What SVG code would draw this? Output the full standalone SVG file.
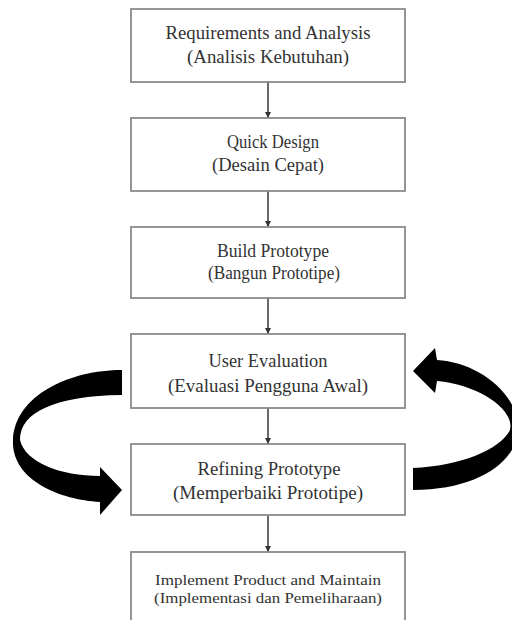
<svg xmlns="http://www.w3.org/2000/svg" width="512" height="620" viewBox="0 0 512 620">
<defs>
<style>
.box{fill:#fff;stroke:#8a8a8a;stroke-width:1.8}
.t{font-family:"Liberation Serif","Times New Roman",serif;font-size:18.5px;fill:#333;text-anchor:middle}
.s{font-size:15px}
.c{stroke:#444;stroke-width:1.6;fill:none}
.big{fill:#000}
</style>
<marker id="ah" viewBox="0 0 10 10" refX="10" refY="5" markerWidth="4" markerHeight="4" orient="auto" markerUnits="strokeWidth">
<path d="M0,0 L10,5 L0,10 Z" fill="#333"/>
</marker>
</defs>
<rect width="512" height="620" fill="#fff"/>
<g id="connectors">
<line class="c" x1="268" y1="82" x2="268" y2="118" marker-end="url(#ah)"/>
<line class="c" x1="268" y1="191" x2="268" y2="227" marker-end="url(#ah)"/>
<line class="c" x1="268" y1="298" x2="268" y2="334" marker-end="url(#ah)"/>
<line class="c" x1="268" y1="408" x2="268" y2="444" marker-end="url(#ah)"/>
<line class="c" x1="268" y1="515" x2="268" y2="552" marker-end="url(#ah)"/>
<path id="loop-left" class="big" d="M122 370 C70 370 15 395 13 440 C11 480 60 500 100 502 L100 515 L122 490 L100 467 L100 476 C60 476 25 462 20 440 C20 412 55 396 122 395 Z"/>
<path id="loop-right" class="big" d="M413 371 L435 348 L437 360 C475 362 515 390 518 425 C520 460 480 490 413 490 L413 468 C460 466 500 450 510 430 C515 410 480 385 437 381 L435 393 Z"/>
</g>
<g id="n1">
<rect class="box" x="131" y="9" width="274" height="73"/>
<text class="t" x="268" y="39" textLength="205" lengthAdjust="spacingAndGlyphs">Requirements and Analysis</text>
<text class="t" x="268" y="63" textLength="162" lengthAdjust="spacingAndGlyphs">(Analisis Kebutuhan)</text>
</g>
<g id="n2">
<rect class="box" x="131" y="118" width="274" height="73"/>
<text class="t" x="273" y="148" textLength="92" lengthAdjust="spacingAndGlyphs">Quick Design</text>
<text class="t" x="268" y="171" textLength="112" lengthAdjust="spacingAndGlyphs">(Desain Cepat)</text>
</g>
<g id="n3">
<rect class="box" x="131" y="227" width="274" height="71"/>
<text class="t" x="273" y="257" textLength="112" lengthAdjust="spacingAndGlyphs">Build Prototype</text>
<text class="t" x="274" y="279" textLength="132" lengthAdjust="spacingAndGlyphs">(Bangun Prototipe)</text>
</g>
<g id="n4">
<rect class="box" x="131" y="334" width="274" height="74"/>
<text class="t" x="268" y="367" textLength="119" lengthAdjust="spacingAndGlyphs">User Evaluation</text>
<text class="t" x="268" y="392" textLength="200" lengthAdjust="spacingAndGlyphs">(Evaluasi Pengguna Awal)</text>
</g>
<g id="n5">
<rect class="box" x="131" y="444" width="274" height="71"/>
<text class="t" x="269" y="475" textLength="143" lengthAdjust="spacingAndGlyphs">Refining Prototype</text>
<text class="t" x="268" y="499" textLength="190" lengthAdjust="spacingAndGlyphs">(Memperbaiki Prototipe)</text>
</g>
<g id="n6">
<rect class="box" x="131" y="552" width="274" height="80"/>
<text class="t s" x="268" y="585" textLength="226" lengthAdjust="spacingAndGlyphs">Implement Product and Maintain</text>
<text class="t s" x="268" y="603" textLength="228" lengthAdjust="spacingAndGlyphs">(Implementasi dan Pemeliharaan)</text>
</g>
</svg>
